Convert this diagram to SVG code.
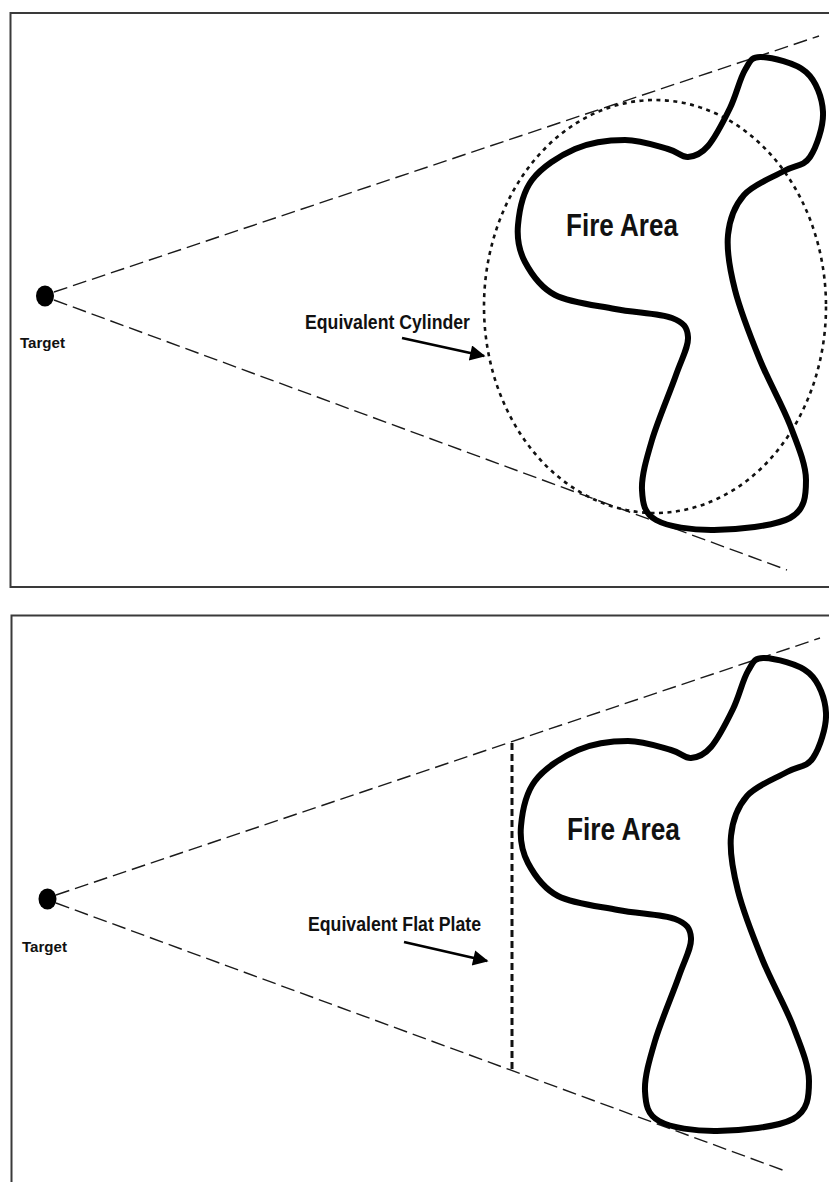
<svg xmlns="http://www.w3.org/2000/svg" xmlns:xlink="http://www.w3.org/1999/xlink" width="829" height="1182" viewBox="0 0 829 1182">
  <style>
    .frame { fill: none; stroke: #3a3a3a; stroke-width: 2; }
    .ray { fill: none; stroke: #1a1a1a; stroke-width: 1.4; stroke-dasharray: 14 6; }
    .cyl { fill: none; stroke: #111; stroke-width: 2.6; stroke-dasharray: 4 4.5; }
    .plate { fill: none; stroke: #111; stroke-width: 3; stroke-dasharray: 7 4; }
    .fire { fill: none; stroke: #000; stroke-width: 6; stroke-linejoin: round; }
    .dot { fill: #000; }
    .lbl { font-family: "Liberation Sans", Arial, sans-serif; font-weight: bold; fill: #111; }
    .ptr { fill: none; stroke: #000; stroke-width: 2.8; marker-end: url(#head); }
  </style>
  <defs>
    <marker id="head" viewBox="0 0 10 10" refX="9" refY="5" markerWidth="6.5" markerHeight="5.5" markerUnits="strokeWidth" orient="auto">
      <path d="M0,0 L10,5 L0,10 Z" fill="#000"/>
    </marker>
    <path id="fireShape" d="M761,57 C771.2,57.3 795.7,62.8 806,72 C816.3,81.2 822.3,97.8 823,112 C823.7,126.2 816.5,147.2 810,157 C803.5,166.8 795,164.7 784,171 C773,177.3 753.3,184.3 744,195 C734.7,205.7 729.5,219.2 728,235 C726.5,250.8 729.7,269.2 735,290 C740.3,310.8 750.8,337.5 760,360 C769.2,382.5 782.3,405 790,425 C797.7,445 806,464.5 806,480 C806,495.5 805.3,509.7 790,518 C774.7,526.3 736.3,529.7 714,530 C691.7,530.3 668,526.7 656,520 C644,513.3 642.7,503.3 642,490 C641.3,476.7 646.3,459.2 652,440 C657.7,420.8 670,392.2 676,375 C682,357.8 688.7,346.5 688,337 C687.3,327.5 684.2,322.7 672,318 C659.8,313.3 634.5,312.8 615,309 C595.5,305.2 570,302.8 555,295 C540,287.2 531.2,273.7 525,262 C518.8,250.3 516.8,238.7 518,225 C519.2,211.3 522.5,192.7 532,180 C541.5,167.3 559.5,155.7 575,149 C590.5,142.3 609.5,140 625,140 C640.5,140 657.5,146.2 668,149 C678.5,151.8 681.3,157.5 688,157 C694.7,156.5 701,154.2 708,146 C715,137.8 723.8,120.7 730,108 C736.2,95.3 739.8,78.5 745,70 C750.2,61.5 750.8,56.7 761,57 Z"/>
  </defs>

  <rect width="829" height="1182" fill="#fff"/>

  <!-- Upper panel: equivalent cylinder -->
  <g id="panel-cylinder">
    <rect class="frame" x="10.5" y="13" width="830" height="574"/>

    <g id="connectors-cylinder">
      <line class="ray" x1="54" y1="292" x2="819" y2="36"/>
      <line class="ray" x1="54" y1="300" x2="787" y2="570"/>
      <line class="ptr" x1="402" y1="338" x2="484" y2="356"/>
    </g>

    <g id="target-1">
      <ellipse class="dot" cx="45" cy="296" rx="9" ry="10.5"/>
      <text class="lbl" x="20" y="348" font-size="15.5" textLength="45" lengthAdjust="spacingAndGlyphs">Target</text>
    </g>

    <g id="cylinder">
      <ellipse class="cyl" cx="655" cy="306.5" rx="171" ry="206.5"/>
      <text class="lbl" x="305" y="329" font-size="19.5" textLength="165" lengthAdjust="spacingAndGlyphs">Equivalent Cylinder</text>
    </g>

    <g id="fire-area-1">
      <use xlink:href="#fireShape" href="#fireShape" class="fire"/>
      <text class="lbl" x="566" y="236" font-size="30.5" textLength="112" lengthAdjust="spacingAndGlyphs">Fire Area</text>
    </g>
  </g>

  <!-- Lower panel: equivalent flat plate -->
  <g id="panel-plate">
    <rect class="frame" x="11.5" y="615.5" width="830" height="580"/>

    <g id="connectors-plate">
      <line class="ray" x1="56" y1="895" x2="820" y2="638"/>
      <line class="ray" x1="56" y1="903" x2="788" y2="1172"/>
      <line class="ptr" x1="404" y1="942" x2="487" y2="961"/>
    </g>

    <g id="target-2">
      <ellipse class="dot" cx="47.5" cy="899" rx="9" ry="10.5"/>
      <text class="lbl" x="22" y="952" font-size="15.5" textLength="45" lengthAdjust="spacingAndGlyphs">Target</text>
    </g>

    <g id="flat-plate">
      <line class="plate" x1="512" y1="743" x2="512" y2="1071"/>
      <text class="lbl" x="308" y="931" font-size="19.5" textLength="173" lengthAdjust="spacingAndGlyphs">Equivalent Flat Plate</text>
    </g>

    <g id="fire-area-2">
      <use xlink:href="#fireShape" href="#fireShape" class="fire" transform="translate(3,601)"/>
      <text class="lbl" x="567" y="840" font-size="30.5" textLength="113" lengthAdjust="spacingAndGlyphs">Fire Area</text>
    </g>
  </g>
</svg>
